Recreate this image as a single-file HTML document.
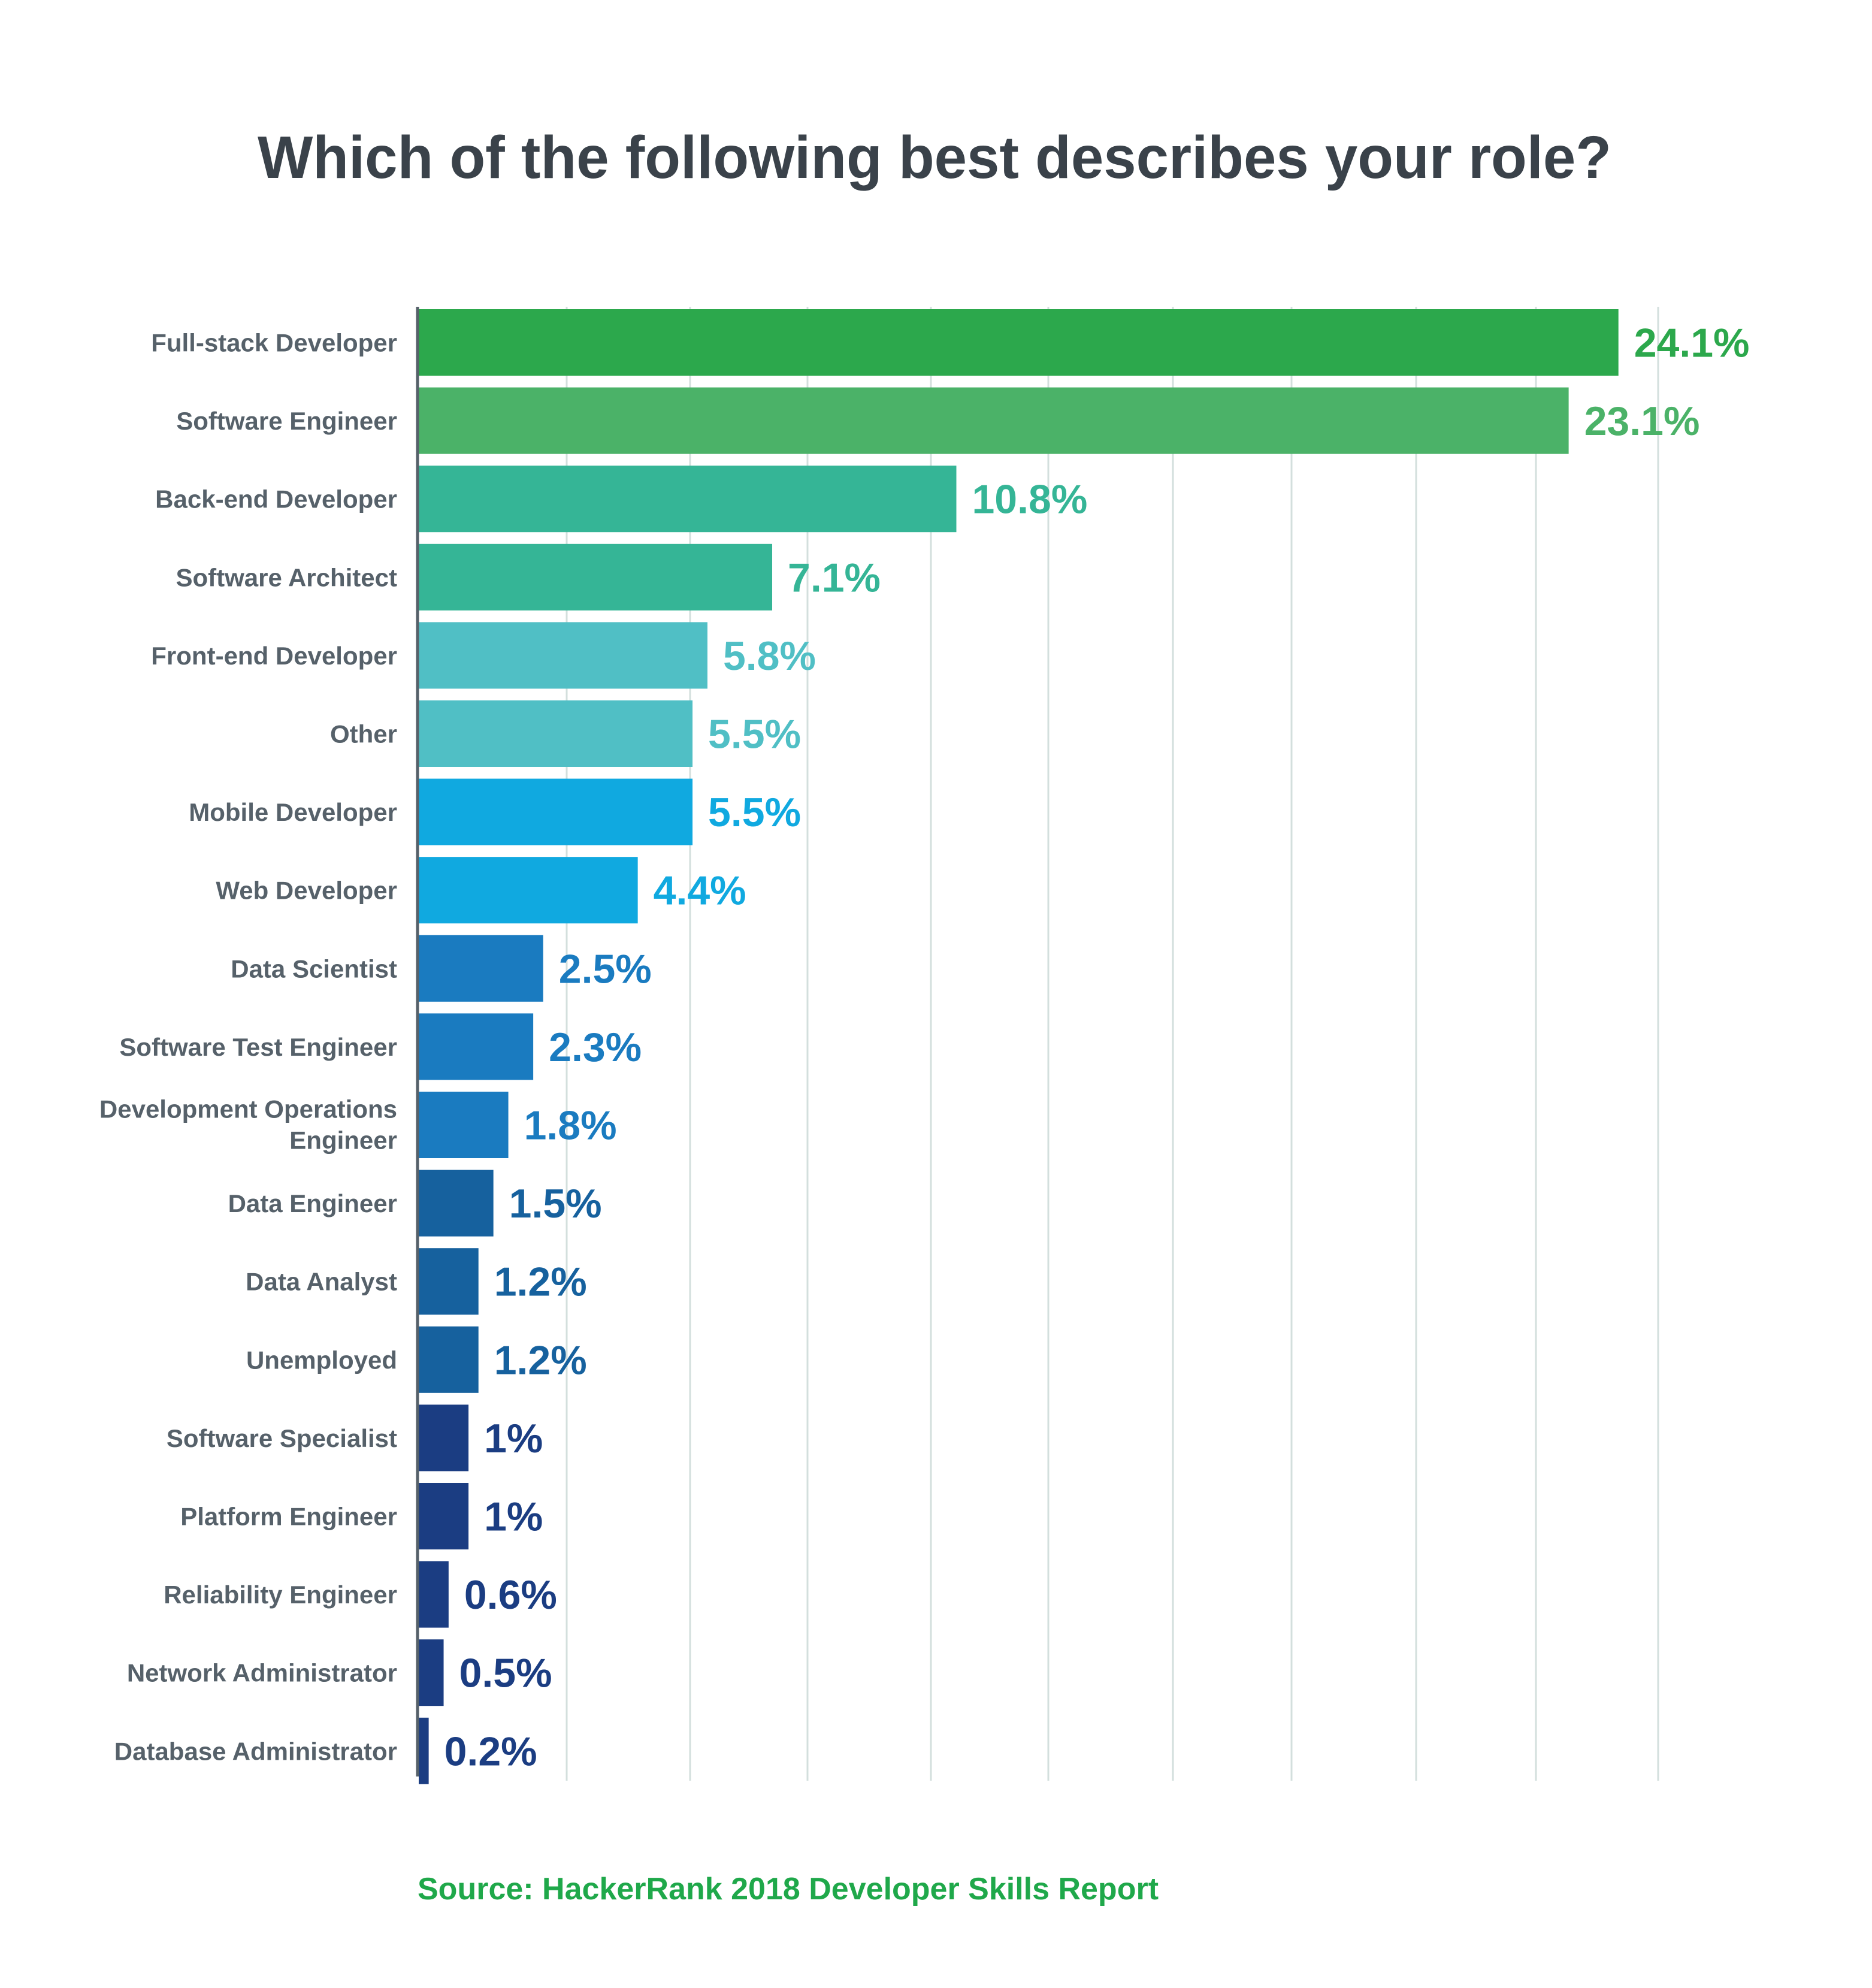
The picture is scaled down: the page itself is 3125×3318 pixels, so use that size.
<!DOCTYPE html>
<html><head><meta charset="utf-8"><style>
html,body{margin:0;padding:0;background:#fff;}
svg{display:block;font-family:"Liberation Sans",sans-serif;}
</style></head><body>
<svg id="chart" width="3125" height="3318" viewBox="0 0 3125 3318" xmlns="http://www.w3.org/2000/svg">
<rect width="3125" height="3318" fill="#fff"/>
<text x="1560" y="297" text-anchor="middle" font-size="100" font-weight="bold" fill="#3a424a" textLength="2260" lengthAdjust="spacingAndGlyphs">Which of the following best describes your role?</text>
<g id="grid"></g>
<g id="bars"></g>
<g id="labels"></g>
<g id="values"></g>
<line x1="697" y1="512" x2="697" y2="2965" stroke="#56616a" stroke-width="5"/>
<text x="697" y="3170" font-size="52" font-weight="bold" fill="#1fa84a">Source: HackerRank 2018 Developer Skills Report</text>
</svg>
<script>
const categories = ["Full-stack Developer","Software Engineer","Back-end Developer","Software Architect","Front-end Developer","Other","Mobile Developer","Web Developer","Data Scientist","Software Test Engineer","Development Operations|Engineer","Data Engineer","Data Analyst","Unemployed","Software Specialist","Platform Engineer","Reliability Engineer","Network Administrator","Database Administrator"];
const values = [24.1,23.1,10.8,7.1,5.8,5.5,5.5,4.4,2.5,2.3,1.8,1.5,1.2,1.2,1,1,0.6,0.5,0.2];
const valueLabels = ["24.1%","23.1%","10.8%","7.1%","5.8%","5.5%","5.5%","4.4%","2.5%","2.3%","1.8%","1.5%","1.2%","1.2%","1%","1%","0.6%","0.5%","0.2%"];
const colors = ["#2ca84c","#4bb268","#35b596","#35b596","#50bfc5","#50bfc5","#10a9e0","#10a9e0","#1a7bc0","#1a7bc0","#1a7bc0","#16619e","#16619e","#16619e","#1b3d82","#1b3d82","#1b3d82","#1b3d82","#1b3d82"];
const gridX = [946,1152,1348,1554,1750,1958,2156,2364,2564,2768];

const NS="http://www.w3.org/2000/svg";
const x0=699, pxPer=83.1, top0=516, pitch=130.6, bh=111;
function xScale(v){return x0+v*pxPer;}
function yScale(i){return top0+i*pitch;}
function mk(tag,attrs,parent){const e=document.createElementNS(NS,tag);for(const k in attrs)e.setAttribute(k,attrs[k]);parent.appendChild(e);return e;}
const g=document.getElementById('grid'),b=document.getElementById('bars'),l=document.getElementById('labels'),v=document.getElementById('values');
gridX.forEach((gx,i)=>{
  const ln=mk('line',{x1:gx,x2:gx,y1:512,y2:2972,stroke:'#d3dfdd','stroke-width':3},g);
  
  
});
categories.forEach((c,i)=>{
  const y=yScale(i);
  const r=mk('rect',{x:x0,y:y,width:Math.max(xScale(values[i])-x0,0),height:bh,fill:colors[i]},b);
  
  
  const parts=c.split('|');
  const t=mk('text',{x:663,'text-anchor':'end','font-size':42,'font-weight':'bold',fill:'#56616a'},l);
  
  
  if(parts.length===1){t.setAttribute('y',y+bh/2+15);t.textContent=c;}
  else{parts.forEach((p,k)=>{const s=mk('tspan',{x:663,y:y+bh/2-12+k*52},t);s.textContent=p;});}
  const vt=mk('text',{x:xScale(values[i])+26,y:y+bh/2+24,'font-size':68,'font-weight':'bold',fill:colors[i]},v);
  
  
  vt.textContent=valueLabels[i];
});
</script>
</body></html>
